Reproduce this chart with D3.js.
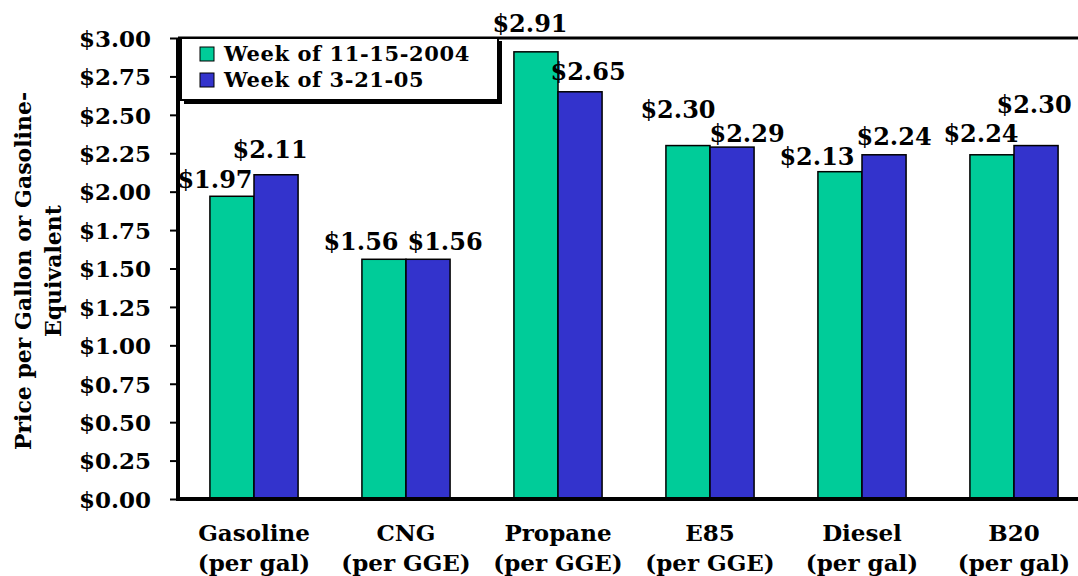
<!DOCTYPE html>
<html><head><meta charset="utf-8">
<script src="https://cdn.jsdelivr.net/npm/d3@7"></script>
<style>body{margin:0;background:#fff}svg{display:block}text{font-family:"DejaVu Serif",serif;font-weight:bold;fill:#000}</style>
</head><body>
<script>
const categories = ["Gasoline|(per gal)", "CNG|(per GGE)", "Propane|(per GGE)", "E85|(per GGE)", "Diesel|(per gal)", "B20|(per gal)"];
const seriesNames = ["Week of 11-15-2004", "Week of 3-21-05"];
const nov2004 = [1.97, 1.56, 2.91, 2.30, 2.13, 2.24];
const mar2005 = [2.11, 1.56, 2.65, 2.29, 2.24, 2.30];
const colors = ["#00CC99", "#3333CC"];
const yTicks = [0, 0.25, 0.5, 0.75, 1, 1.25, 1.5, 1.75, 2, 2.25, 2.5, 2.75, 3];
// manual label nudges (px) as in the original, [dx, dy] from bar centre / bar top
const nudgeNov = [[-17, -8], [-23, -9], [-6, -20], [-10, -28], [-23, -7], [-11, -13]];
const nudgeMar = [[-6, -17], [17, -9], [8, -12], [15, -5], [10, -10], [-2, -33]];

(function () {
const W = 1078, H = 576;
const svg = d3.select("body").append("svg").attr("width", W).attr("height", H);
const left = 178, plotTop = 38, bottom = 499;
const x = d3.scaleBand().domain(categories).range([left, left + 6 * 152]).paddingInner(0.42).paddingOuter(0.21);
const xs = d3.scaleBand().domain([0, 1]).range([0, x.bandwidth()]);
const y = d3.scaleLinear().domain([0, 3]).range([bottom, plotTop]);

// top frame line
svg.append("line").attr("x1", left).attr("x2", W).attr("y1", y(3)).attr("y2", y(3)).attr("stroke", "#000").attr("stroke-width", 3);

// y axis
const yAxis = d3.axisLeft(y).tickValues(yTicks).tickFormat(d => "$" + d3.format(".2f")(d)).tickSize(8).tickPadding(19);
const ga = svg.append("g").attr("transform", `translate(${left},0)`).call(yAxis);
ga.select(".domain").attr("stroke-width", 4).attr("d", `M0,${y(3)}V${bottom}`);
ga.selectAll(".tick line").attr("stroke-width", 2);
ga.selectAll(".tick text").style("font-size", "23px").attr("dy", "0.36em");

// bars
const data = categories.map((c, i) => ({c, v: [nov2004[i], mar2005[i]]}));
const g = svg.append("g");
data.forEach((d, i) => {
  [0, 1].forEach(s => {
    const bx = x(d.c) + xs(s), bw = xs.bandwidth();
    g.append("rect").attr("x", bx).attr("width", bw)
      .attr("y", y(d.v[s])).attr("height", bottom - y(d.v[s]))
      .attr("fill", colors[s]).attr("stroke", "#000").attr("stroke-width", 1.5);
    const n = s === 0 ? nudgeNov[i] : nudgeMar[i];
    g.append("text").attr("x", bx + bw / 2 + n[0]).attr("y", y(d.v[s]) + n[1])
      .attr("text-anchor", "middle").style("font-size", "24px")
      .text("$" + d3.format(".2f")(d.v[s]));
  });
});

// x axis line
svg.append("line").attr("x1", left - 2).attr("x2", W).attr("y1", bottom).attr("y2", bottom).attr("stroke", "#000").attr("stroke-width", 4);

// category labels
categories.forEach(c => {
  const parts = c.split("|");
  const t = svg.append("text").attr("text-anchor", "middle").style("font-size", "23px");
  t.append("tspan").attr("x", x(c) + x.bandwidth() / 2).attr("y", 541).text(parts[0]);
  t.append("tspan").attr("x", x(c) + x.bandwidth() / 2).attr("y", 571).text(parts[1]);
});

// y title
const yt = svg.append("text").attr("transform", "translate(0,271) rotate(-90)").attr("text-anchor", "middle").style("font-size", "22px");
yt.append("tspan").attr("x", 0).attr("y", 31).text("Price per Gallon or Gasoline-");
yt.append("tspan").attr("x", 0).attr("y", 61).text("Equivalent");

// legend
const lg = svg.append("g");
lg.append("rect").attr("x", 184).attr("y", 41).attr("width", 318).attr("height", 63).attr("fill", "#000");
lg.append("rect").attr("x", 181).attr("y", 38).attr("width", 317).attr("height", 62).attr("fill", "#fff").attr("stroke", "#000").attr("stroke-width", 2);
seriesNames.forEach((s, i) => {
  lg.append("rect").attr("x", 200).attr("y", 47 + i * 26).attr("width", 14).attr("height", 14).attr("fill", colors[i]).attr("stroke", "#000").attr("stroke-width", 1);
  lg.append("text").attr("x", 224).attr("y", 61 + i * 26).style("font-size", "21px").style("letter-spacing", "0.6px").text(s);
});
})();
</script>
</body></html>
